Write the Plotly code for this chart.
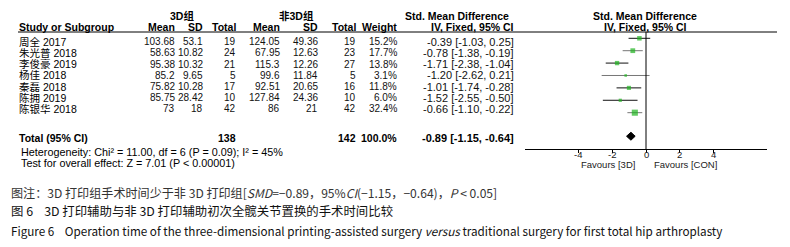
import plotly.graph_objects as go

# ---------------- data ----------------
studies = ["周全 2017", "朱光普 2018", "李俊豪 2019", "杨佳 2018", "秦磊 2018", "陈拥 2019", "陈银华 2018"]
mean_3d = [103.68, 58.63, 95.38, 85.2, 75.82, 85.75, 73]
sd_3d = [53.1, 10.82, 10.32, 9.65, 10.28, 28.42, 18]
n_3d = [19, 24, 21, 5, 17, 10, 42]
mean_con = [124.05, 67.95, 115.3, 99.6, 92.51, 127.84, 86]
sd_con = [49.36, 12.63, 12.26, 11.84, 20.65, 24.36, 21]
n_con = [19, 23, 27, 5, 16, 10, 42]
weight = [15.2, 17.7, 13.8, 3.1, 11.8, 6.0, 32.4]
smd = [-0.39, -0.78, -1.71, -1.20, -1.01, -1.52, -0.66]
ci_lo = [-1.03, -1.38, -2.38, -2.62, -1.74, -2.55, -1.10]
ci_hi = [0.25, -0.19, -1.04, 0.21, -0.28, -0.50, -0.22]
total_3d = 138
total_con = 142
total_weight = 100.0
total_smd = -0.89
total_lo = -1.15
total_hi = -0.64
x_ticks = [-4, -2, 0, 2, 4]
heterogeneity = "Heterogeneity: Chi² = 11.00, df = 6 (P = 0.09); I² = 45%"
overall = "Test for overall effect: Z = 7.01 (P < 0.00001)"

# ---------------- styling ----------------
OFF = 8                      # default page body margin
W, H = 790 - OFF, 247 - OFF
FONT = "Liberation Sans, Arial, Noto Sans CJK SC"
CAPFONT = "Noto Sans CJK SC, Liberation Sans"
GREEN = "#1fb41f"
ci_colors = ["#111", "#777", "#111", "#777", "#111", "#111", "#777"]
TS = 10.5
NS = 10


def px_x(xp):
    return (xp - OFF) / W


def px_y(yp):
    return 1 - (yp - OFF) / H


row_px0, row_dpx = 41.7, 11.2        # table text rows (pixels)
mk_top_idx = -0.508                   # plot domain top in row index units
mk_bot_idx = 8.93
total_idx = 7.9

fig = go.Figure()

for i in range(len(studies)):
    fig.add_trace(go.Scatter(x=[ci_lo[i], ci_hi[i]], y=[i, i], mode="lines",
                             line=dict(color=ci_colors[i], width=1),
                             hoverinfo="skip", showlegend=False))
fig.add_trace(go.Scatter(x=smd, y=list(range(len(studies))), mode="markers",
                         marker=dict(symbol="square", color=GREEN,
                                     size=[1.0 + 0.9 * w ** 0.5 for w in weight],
                                     line=dict(width=0)),
                         showlegend=False, hoverinfo="skip"))
dh = 0.32
fig.add_trace(go.Scatter(x=[total_lo, total_smd, total_hi, total_smd, total_lo],
                         y=[total_idx, total_idx - dh, total_idx, total_idx + dh, total_idx],
                         mode="lines", fill="toself", fillcolor="black",
                         line=dict(color="black", width=1), showlegend=False, hoverinfo="skip"))

ann = []


def txt(xp, yp, s, anchor="right", size=TS, color="black", font=FONT):
    ann.append(dict(x=px_x(xp), y=px_y(yp), xref="paper", yref="paper", text=s,
                    showarrow=False, xanchor=anchor, yanchor="middle",
                    font=dict(family=font, size=size, color=color), borderpad=0))


# headers
txt(181.7, 16, "<b>3D组</b>", "center")
txt(296.7, 16, "<b>非3D组</b>", "center")
txt(457, 16, "<b>Std. Mean Difference</b>", "center")
txt(645, 16, "<b>Std. Mean Difference</b>", "center")
hy = 27
txt(18, hy, "<b>Study or Subgroup</b>", "left")
cols = [175.7, 203.5, 237.3, 281, 319.3, 356.7, 398.3]
for xp, s in zip(cols, ["Mean", "SD", "Total", "Mean", "SD", "Total", "Weight"]):
    txt(xp, hy, "<b>%s</b>" % s)
txt(515, hy, "<b>IV, Fixed, 95% CI</b>")
txt(645.5, hy, "<b>IV, Fixed, 95% CI</b>", "center")

# rows
for i in range(len(studies)):
    yp = row_px0 + row_dpx * i
    txt(18, yp, studies[i], "left")
    vals = [f"{mean_3d[i]:g}", f"{sd_3d[i]:g}", f"{n_3d[i]}",
            f"{mean_con[i]:g}", f"{sd_con[i]:g}", f"{n_con[i]}", f"{weight[i]:.1f}%"]
    for xp, s in zip(cols, vals):
        txt(xp, yp, s, size=NS, color="#111")
    txt(515, yp, f"{smd[i]:.2f} [{ci_lo[i]:.2f}, {ci_hi[i]:.2f}]", size=11, color="#111")

# total
ty = 137.5
txt(18, ty, "<b>Total (95% CI)</b>", "left")
txt(cols[2], ty, f"<b>{total_3d}</b>")
txt(cols[5], ty, f"<b>{total_con}</b>")
txt(cols[6], ty, f"<b>{total_weight:.1f}%</b>")
txt(515, ty, f"<b>{total_smd:.2f} [{total_lo:.2f}, {total_hi:.2f}]</b>", size=11)
txt(20, 151.5, heterogeneity, "left", size=10.8)
txt(20, 163, overall, "left", size=10.8)

# tick labels (placed on the data x scale)
for v in x_ticks:
    ann.append(dict(x=v, xref="x", y=px_y(154.5), yref="paper", text=str(v),
                    showarrow=False, xanchor="center", yanchor="middle",
                    font=dict(family=FONT, size=9.5, color="#222"), borderpad=0))

# favours
txt(608, 164.5, "Favours [3D]", "center", size=9.5, color="#222")
txt(685, 164.5, "Favours [CON]", "center", size=9.5, color="#222")

# captions
txt(10, 192, "图注：3D 打印组手术时间少于非 3D 打印组[<i>SMD</i>=−0.89，95%<i>CI</i>(−1.15，−0.64)，<i>P</i> &lt; 0.05]",
    "left", size=12.1, color="#333", font=CAPFONT)
txt(10, 211, "图 6    3D 打印辅助与非 3D 打印辅助初次全髋关节置换的手术时间比较",
    "left", size=12.4, color="#111", font=CAPFONT)
txt(10, 230, "Figure 6    Operation time of the three-dimensional printing-assisted surgery <i>versus</i> traditional surgery for first total hip arthroplasty",
    "left", size=11.7, color="#111", font=CAPFONT)

shapes = [
    dict(type="line", xref="paper", yref="paper", x0=px_x(18), x1=px_x(777),
         y0=px_y(32), y1=px_y(32), line=dict(color="black", width=1)),
    dict(type="line", xref="x", yref="y domain", x0=0, x1=0, y0=0, y1=1,
         line=dict(color="black", width=1)),
]

fig.update_layout(
    width=W, height=H, margin=dict(l=0, r=0, t=0, b=0),
    paper_bgcolor="white", plot_bgcolor="white",
    annotations=ann, shapes=shapes,
    xaxis=dict(domain=[px_x(525), px_x(767)], range=[-7.15, 7.15], tickvals=x_ticks,
               showticklabels=False,
               showgrid=False, zeroline=False, showline=True, linecolor="black", linewidth=1,
               ticks="outside", ticklen=3, tickcolor="black"),
    yaxis=dict(domain=[px_y(149), px_y(32)], range=[mk_bot_idx, mk_top_idx],
               showgrid=False, zeroline=False, showticklabels=False, showline=False),
)

fig.write_html("out.html")
